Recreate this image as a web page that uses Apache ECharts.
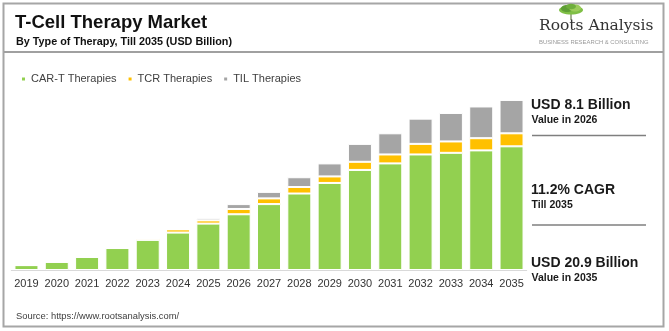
<!DOCTYPE html>
<html>
<head>
<meta charset="utf-8">
<script src="https://cdn.jsdelivr.net/npm/echarts@6/dist/echarts.min.js"></script>
<style>
  html, body { margin: 0; padding: 0; background: #ffffff; }
  #chart { width: 669px; height: 331px; }
</style>
</head>
<body>
<div id="chart"></div>
<script>
// Market size by therapy type, USD billion
const years = ['2019','2020','2021','2022','2023','2024','2025','2026','2027','2028','2029','2030','2031','2032','2033','2034','2035'];
const carT = [0.6, 1.0, 1.6, 2.7, 3.7, 4.6, 5.7, 6.85, 8.1, 9.4, 10.7, 12.3, 13.1, 14.2, 14.4, 14.7, 15.2];
const tcr  = [0, 0, 0, 0, 0.2, 0.4, 0.4, 0.65, 0.7, 0.8, 0.8, 1.0, 1.1, 1.3, 1.4, 1.5, 1.6];
const til  = [0, 0, 0, 0, 0, 0, 0.25, 0.6, 0.8, 1.2, 1.6, 2.2, 2.6, 3.1, 3.5, 3.9, 4.1];
const seriesNames = ['CAR-T Therapies', 'TCR Therapies', 'TIL Therapies'];
const colors = ['#92D050', '#FFC000', '#A5A5A5'];

const FONT = "'Liberation Sans', Arial, sans-serif";
const chart = echarts.init(document.getElementById('chart'), null, { renderer: 'canvas' });

function bar(name, data, color) {
  return {
    name: name,
    type: 'bar',
    stack: 'total',
    data: data,
    barWidth: 24,
    itemStyle: { color: color, borderColor: '#ffffff', borderWidth: 1 },
    emphasis: { disabled: true }
  };
}

// text placed by its top edge
const txt = (x, y, text, size, weight, color, family) => ({
  type: 'text', x: x, y: y, silent: true,
  style: { text: text, fontSize: size, fontWeight: weight, fill: color, fontFamily: family || FONT, verticalAlign: 'top' }
});

chart.setOption({
  animation: false,
  backgroundColor: '#ffffff',
  color: colors,
  grid: { left: 11.3, right: 142.3, top: 91, bottom: 61, containLabel: false },
  legend: {
    data: seriesNames,
    left: 20, top: 73.5, padding: 0,
    icon: 'rect', itemWidth: 5, itemHeight: 5, itemGap: 10,
    textStyle: { fontSize: 11, color: '#404040', fontFamily: FONT },
    selectedMode: false
  },
  xAxis: {
    type: 'category',
    data: years,
    axisLine: { lineStyle: { color: '#d9d9d9', width: 1 } },
    axisTick: { show: false },
    axisLabel: { fontSize: 11, color: '#333333', fontFamily: FONT, margin: 8, interval: 0 }
  },
  yAxis: { type: 'value', min: 0, max: 22, show: false, splitLine: { show: false } },
  series: [bar(seriesNames[0], carT, colors[0]), bar(seriesNames[1], tcr, colors[1]), bar(seriesNames[2], til, colors[2])],
  graphic: [
    // frame and header rule
    { type: 'rect', silent: true, shape: { x: 3.5, y: 3.5, width: 660, height: 323 }, style: { fill: null, stroke: '#a6a6a6', lineWidth: 2 } },
    { type: 'line', silent: true, shape: { x1: 4, y1: 52, x2: 663, y2: 52 }, style: { stroke: '#a0a0a0', lineWidth: 2 } },
    // titles
    txt(15, 13.8, 'T-Cell Therapy Market', 18.5, 'bold', '#111111'),
    txt(16, 36.5, 'By Type of Therapy, Till 2035 (USD Billion)', 10.8, 'bold', '#111111'),
    // logo: small tree over the wordmark
    { type: 'line', silent: true, shape: { x1: 571, y1: 11, x2: 571, y2: 20 }, style: { stroke: '#6b7f4a', lineWidth: 1.2 } },
    { type: 'ellipse', silent: true, shape: { cx: 571, cy: 10, rx: 12, ry: 4.5 }, style: { fill: '#7fbf45' } },
    { type: 'ellipse', silent: true, shape: { cx: 567, cy: 8.5, rx: 6, ry: 3.5 }, style: { fill: '#5e9e35' } },
    { type: 'ellipse', silent: true, shape: { cx: 575, cy: 8, rx: 6, ry: 3.5 }, style: { fill: '#9ccc5a' } },
    { type: 'ellipse', silent: true, shape: { cx: 571, cy: 6.5, rx: 5, ry: 2.8 }, style: { fill: '#6fae3c' } },
    txt(539, 17.9, 'Roots Analysis', 15.5, 'normal', '#333333', "'DejaVu Serif', serif"),
    txt(539, 39.3, 'BUSINESS RESEARCH & CONSULTING', 5.9, 'normal', '#9a9a9a'),
    // key figures
    txt(531, 98.1, 'USD 8.1 Billion', 14, 'bold', '#1a1a1a'),
    txt(531.5, 114.2, 'Value in 2026', 10.5, 'bold', '#1a1a1a'),
    { type: 'line', silent: true, shape: { x1: 532, y1: 135.5, x2: 646, y2: 135.5 }, style: { stroke: '#7f7f7f', lineWidth: 1.5 } },
    txt(531, 183.1, '11.2% CAGR', 14, 'bold', '#1a1a1a'),
    txt(531.5, 200.1, 'Till 2035', 10.5, 'bold', '#1a1a1a'),
    { type: 'line', silent: true, shape: { x1: 532, y1: 225, x2: 646, y2: 225 }, style: { stroke: '#7f7f7f', lineWidth: 1.5 } },
    txt(531, 256.1, 'USD 20.9 Billion', 14, 'bold', '#1a1a1a'),
    txt(531.5, 273.1, 'Value in 2035', 10.5, 'bold', '#1a1a1a'),
    // source
    txt(16, 311.5, 'Source: https://www.rootsanalysis.com/', 9.4, 'normal', '#404040')
  ]
});
</script>
</body>
</html>
